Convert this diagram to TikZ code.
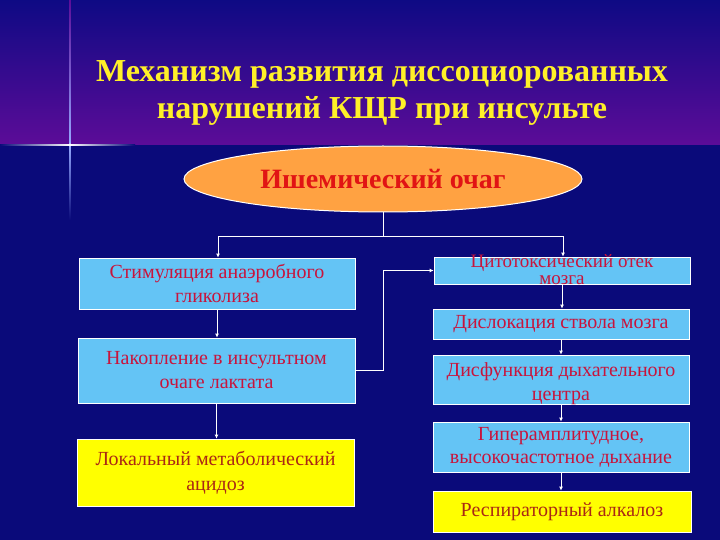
\documentclass[tikz,border=0pt]{standalone}
\usepackage{fontspec}
\setmainfont{Liberation Serif}
\usetikzlibrary{shapes.geometric,arrows.meta,calc}
\definecolor{navy}{RGB}{10,10,122}
\definecolor{topc}{RGB}{14,10,132}
\definecolor{purp}{RGB}{92,12,152}
\definecolor{boxblue}{RGB}{100,196,245}
\definecolor{txtred}{RGB}{200,20,60}
\definecolor{yel}{RGB}{255,255,0}
\definecolor{ytxt}{RGB}{170,40,20}
\definecolor{orng}{RGB}{255,162,66}
\definecolor{etxt}{RGB}{225,20,20}
\definecolor{titley}{RGB}{255,240,40}
\definecolor{glow}{RGB}{150,170,255}
\tikzset{
  bluebox/.style={draw=white, line width=0.8pt, fill=boxblue, text=txtred, align=center,
    inner sep=0pt, font=\fontsize{20}{24}\selectfont},
  yelbox/.style={draw=white, line width=0.8pt, fill=yel, text=ytxt, align=center,
    inner sep=0pt, font=\fontsize{20}{25}\selectfont},
  conn/.style={draw=white, line width=1pt},
  arr/.style={conn, -{Latex[length=4pt,width=4pt]}},
  titletext/.style={text=titley, font=\bfseries\fontsize{32}{38}\selectfont}
}
\begin{document}
\begin{tikzpicture}[x=1pt,y=-1pt]
\useasboundingbox (0,0) rectangle (720,540);
% background
\fill[navy] (0,0) rectangle (720,540);
\shade[top color=topc, bottom color=purp] (0,0) rectangle (720,145);
% star
\shade[top color=purp, bottom color=glow] (69.2,0) rectangle (70.8,145);
\shade[top color=glow, bottom color=navy] (69.2,145) rectangle (70.8,220);
\shade[left color=navy, right color=white] (0,144.2) rectangle (70,145.8);
\shade[left color=white, right color=navy] (70,144.2) rectangle (135,145.8);
\fill[white] (70,145) circle (1.5);
% title
\node[titletext] (t1) at (382,74) {Механизм развития диссоциорованных};
\node[titletext] (t2) at (382,111) {нарушений КЩР при инсульте};
% ellipse
\node[ellipse, draw=white, line width=1pt, fill=orng, minimum width=398, minimum height=66,
  text=etxt, font=\bfseries\fontsize{28}{32}\selectfont] (E) at (383,179) {Ишемический очаг};
% left column
\node[bluebox, minimum width=276, minimum height=51] (L1) at (217,283.5) {Стимуляция анаэробного\\гликолиза};
\node[bluebox, minimum width=277, minimum height=65] (L2) at (216.5,370.5) {Накопление в инсультном\\очаге лактата};
\node[yelbox, minimum width=277, minimum height=67] (L3) at (215.5,472.5) {Локальный метаболический\\ацидоз};
% right column
\node[bluebox, minimum width=256, minimum height=27] (R1) at (562,270.5) {};
\node[text=txtred, align=center, inner sep=0pt, font=\fontsize{19}{17}\selectfont] (R1t) at (562,270) {Цитотоксический отек\\мозга};
\node[bluebox, minimum width=256, minimum height=30] (R2) at (561,324) {Дислокация ствола мозга};
\node[bluebox, minimum width=256, minimum height=49] (R3) at (561,379.5) {};
\node[text=txtred, align=center, inner sep=0pt, font=\fontsize{20}{24}\selectfont] (R3t) at (561,384) {Дисфункция дыхательного\\центра};
\node[bluebox, minimum width=256, minimum height=50, font=\fontsize{20}{23}\selectfont] (R4) at (561,447) {Гиперамплитудное,\\высокочастотное дыхание};
\node[yelbox, minimum width=258, minimum height=41] (R5) at (562,511.5) {Респираторный алкалоз};
% connectors
\coordinate (j) at (383,236);
\coordinate (jl) at (218,236);
\coordinate (jr) at (563,236);
\draw[conn] (E.south) -- (j);
\draw[conn] (jl) -- (jr);
\draw[arr] (jl) -- (jl |- L1.north);
\draw[arr] (jr) -- (jr |- R1.north);
\draw[arr] (L1.south) -- (L1.south |- L2.north);
\draw[arr] (L2.south) -- (L2.south |- L3.north);
\draw[arr] (L2.east) -- ++(28,0) |- (R1.west);
\draw[arr] (R1.south) -- (R1.south |- R2.north);
\draw[arr] (R2.south) -- (R2.south |- R3.north);
\draw[arr] (R3.south) -- (R3.south |- R4.north);
\draw[arr] (R4.south) -- (R4.south |- R5.north);
\end{tikzpicture}
\end{document}
